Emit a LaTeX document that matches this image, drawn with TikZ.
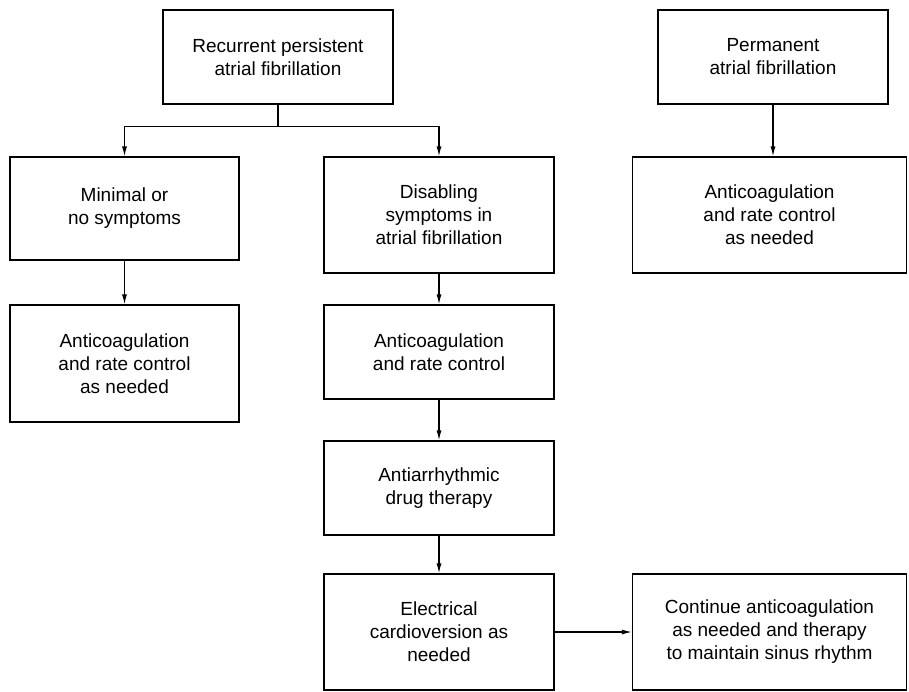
\documentclass[tikz,border=0pt]{standalone}
\usepackage{fontspec}
\setmainfont{Liberation Sans}
\usetikzlibrary{arrows.meta}
\begin{document}
\begin{tikzpicture}[x=1pt,y=-1pt,line width=1.2pt,>={Latex[length=10pt,width=5pt]}]
  \tikzstyle{every node}=[draw,align=center,inner sep=0pt,font=\fontsize{19}{23}\selectfont]
  \tikzstyle{small box}=[minimum width=230pt,minimum height=94pt]
  \tikzstyle{tall box}=[minimum width=230pt,minimum height=116pt]
  \tikzstyle{broad box}=[minimum width=274pt,minimum height=116pt]
  \useasboundingbox (0,0) rectangle (909,691);
  \node[small box] (rec) at (278,57) {Recurrent persistent\\atrial fibrillation};
  \node[small box] (perm) at (773,57) {Permanent\\atrial fibrillation};
  \node[tall box,minimum width=229pt,minimum height=103pt] (minimal) at (124.5,208.5) {Minimal or\\no symptoms};
  \node[tall box] (disab) at (439,215) {Disabling\\symptoms in\\atrial fibrillation};
  \node[broad box] (permac) at (769.5,215) {Anticoagulation\\and rate control\\as needed};
  \node[tall box,minimum width=229pt,minimum height=117pt] (minac) at (124.5,363.5) {Anticoagulation\\and rate control\\as needed};
  \node[small box] (rateac) at (439,352) {Anticoagulation\\and rate control};
  \node[small box] (drug) at (439,488) {Antiarrhythmic\\drug therapy};
  \node[tall box] (cardio) at (439,632) {Electrical\\cardioversion as\\needed};
  \node[broad box] (cont) at (769.5,632) {Continue anticoagulation\\as needed and therapy\\to maintain sinus rhythm};
  \draw (rec.south) -- ++(0,22) coordinate (split);
  \draw[->] (split) -| (minimal.north);
  \draw[->] (split) -| (disab.north);
  \draw[->] (perm.south) -- (perm.south |- permac.north);
  \draw[->] (minimal) -- (minac);
  \draw[->] (disab) -- (rateac);
  \draw[->] (rateac) -- (drug);
  \draw[->] (drug) -- (cardio);
  \draw[->] (cardio) -- (cont);
\end{tikzpicture}
\end{document}
